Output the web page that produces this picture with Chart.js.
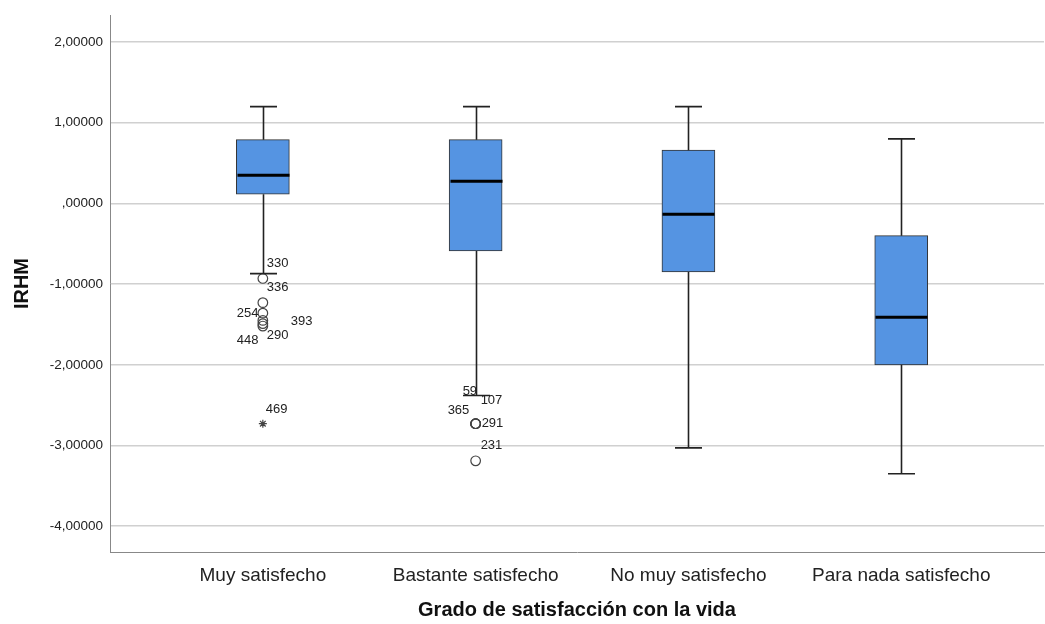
<!DOCTYPE html>
<html>
<head>
<meta charset="utf-8">
<script src="https://cdn.jsdelivr.net/npm/chart.js@4.4.1/dist/chart.umd.min.js"></script>
<style>
  html, body { margin: 0; padding: 0; background: #fff; overflow: hidden; }
  #wrap { width: 1050px; height: 624px; }
  canvas { display: block; }
</style>
</head>
<body>
<div id="wrap"><canvas id="box"></canvas></div>
<script>
// categories and box statistics
var categories = ["Muy satisfecho", "Bastante satisfecho", "No muy satisfecho", "Para nada satisfecho"];
var whiskerMax = [1.20, 1.20, 1.20, 0.80];
var q3 = [0.79, 0.79, 0.66, -0.40];
var median = [0.35, 0.275, -0.135, -1.41];
var q1 = [0.115, -0.59, -0.85, -2.00];
var whiskerMin = [-0.87, -2.38, -3.03, -3.35];

// outliers (group index, value, case id)
var outlierGroup = [0, 0, 0, 0, 0, 0, 0, 1, 1, 1, 1, 1];
var outlierValue = [-0.93, -1.23, -1.36, -1.45, -1.49, -1.52, -2.73, -2.73, -2.73, -2.73, -2.73, -3.19];
var outlierId = ["330", "336", "254", "393", "290", "448", "469", "59", "107", "365", "291", "231"];
var extremeIds = ["469"];

var yTicks = [2, 1, 0, -1, -2, -3, -4];

// label placement next to each outlier, in pixels (style only)
var labelOffset = [[4, -15], [4, -15], [-26, 0], [28, 1], [4, 12], [-26, 14], [3, -14],
                   [-13, -32], [5, -23], [-28, -13], [6, 0], [5, -15]];

var FONT = "'Liberation Sans', Arial, sans-serif";

function fmt(v) {
    var s = v.toFixed(5).replace(".", ",");
    if (s.indexOf("0,") === 0) s = s.substring(1);
    return s;
}

var boxData = categories.map(function(c, i) { return { x: i + 1, y: [q1[i], q3[i]] }; });
var outData = outlierValue.map(function(v, i) { return { x: outlierGroup[i] + 1, y: v }; });
var outStyle = outlierId.map(function(id) { return extremeIds.indexOf(id) >= 0 ? "star" : "circle"; });
var outRadius = outlierId.map(function(id) { return extremeIds.indexOf(id) >= 0 ? 4 : 4.8; });

var boxPlugin = {
    id: "boxParts",
    afterDatasetsDraw: function(chart) {
        var ctx = chart.ctx, xs = chart.scales.x, ys = chart.scales.y;
        ctx.save();
        for (var i = 0; i < categories.length; i++) {
            var cx = Math.round(xs.getPixelForValue(i + 1)) + 0.5;
            var capHalf = 13.5;
            ctx.strokeStyle = "#222";
            ctx.lineWidth = 1.6;
            ctx.beginPath();
            ctx.moveTo(cx, ys.getPixelForValue(whiskerMax[i]));
            ctx.lineTo(cx, ys.getPixelForValue(q3[i]));
            ctx.moveTo(cx, ys.getPixelForValue(q1[i]));
            ctx.lineTo(cx, ys.getPixelForValue(whiskerMin[i]));
            ctx.moveTo(cx - capHalf, ys.getPixelForValue(whiskerMax[i]));
            ctx.lineTo(cx + capHalf, ys.getPixelForValue(whiskerMax[i]));
            ctx.moveTo(cx - capHalf, ys.getPixelForValue(whiskerMin[i]));
            ctx.lineTo(cx + capHalf, ys.getPixelForValue(whiskerMin[i]));
            ctx.stroke();
            ctx.lineWidth = 3;
            ctx.strokeStyle = "#000";
            ctx.beginPath();
            ctx.moveTo(cx - 26, ys.getPixelForValue(median[i]));
            ctx.lineTo(cx + 26, ys.getPixelForValue(median[i]));
            ctx.stroke();
        }
        ctx.fillStyle = "#222";
        ctx.font = "13px " + FONT;
        ctx.textBaseline = "middle";
        ctx.textAlign = "left";
        for (var j = 0; j < outlierId.length; j++) {
            var px = xs.getPixelForValue(outlierGroup[j] + 1);
            var py = ys.getPixelForValue(outlierValue[j]);
            ctx.fillText(outlierId[j], px + labelOffset[j][0], py + labelOffset[j][1]);
        }
        ctx.restore();
    }
};

var ctx = document.getElementById("box").getContext("2d");
var chart = new Chart(ctx, {
    data: {
        datasets: [
            {
                type: "scatter",
                data: outData,
                pointStyle: outStyle,
                pointRadius: outRadius,
                pointBorderColor: "#444",
                pointBackgroundColor: "rgba(255,255,255,0)",
                pointBorderWidth: 1.2,
                order: 0
            },
            {
                type: "bar",
                data: boxData,
                backgroundColor: "#5594e2",
                borderColor: "#333",
                borderWidth: 1,
                borderSkipped: false,
                barThickness: 53,
                order: 1
            }
        ]
    },
    options: {
        responsive: true,
        maintainAspectRatio: false,
        animation: false,
        layout: { padding: { top: 14, right: 0, left: 0, bottom: 0 } },
        plugins: { legend: { display: false }, tooltip: { enabled: false } },
        scales: {
            x: {
                type: "linear",
                offset: false,
                min: 0.2817,
                max: 4.671,
                afterBuildTicks: function(scale) {
                    scale.ticks = categories.map(function(c, i) { return { value: i + 1 }; });
                },
                afterFit: function(scale) { scale.height = 72; },
                grid: { display: false, drawTicks: false },
                border: { display: true, color: "#888", width: 1 },
                ticks: {
                    padding: 12,
                    color: "#222",
                    font: { family: FONT, size: 19 },
                    maxRotation: 0,
                    autoSkip: false,
                    callback: function(v) { return categories[v - 1]; }
                },
                title: {
                    display: true,
                    text: "Grado de satisfacción con la vida",
                    color: "#111",
                    padding: { top: 0, bottom: 2 },
                    font: { family: FONT, size: 20, weight: "bold" }
                }
            },
            y: {
                min: -4.32,
                max: 2.334,
                afterBuildTicks: function(scale) {
                    scale.ticks = yTicks.map(function(v) { return { value: v }; });
                },
                afterFit: function(scale) { scale.width = 110; },
                grid: { color: "#d0d0d0", lineWidth: 1.5, drawTicks: false },
                border: { display: true, color: "#888", width: 1 },
                ticks: {
                    padding: 7,
                    color: "#222",
                    font: { family: FONT, size: 13.5 },
                    callback: function(v) { return fmt(v); }
                },
                title: {
                    display: true,
                    text: "IRHM",
                    color: "#111",
                    padding: { top: 10, bottom: 0 },
                    font: { family: FONT, size: 20, weight: "bold" }
                }
            }
        }
    },
    plugins: [boxPlugin]
});
</script>
</body>
</html>
